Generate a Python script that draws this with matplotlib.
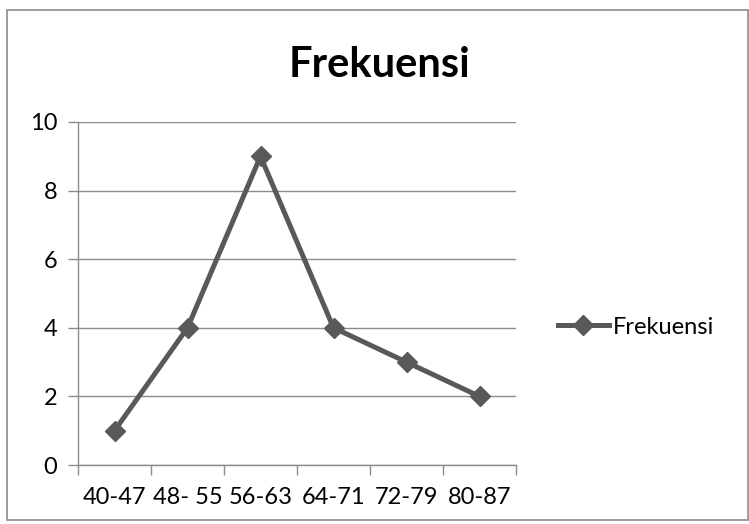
import matplotlib
matplotlib.use("Agg")
import matplotlib.pyplot as plt
from matplotlib.patches import Rectangle
from matplotlib.lines import Line2D

categories = ["40-47", "48- 55", "56-63", "64-71", "72-79", "80-87"]
values = [1, 4, 9, 4, 3, 2]
series_name = "Frekuensi"
title = "Frekuensi"
yticks = [0, 2, 4, 6, 8, 10]

plt.rcParams['font.family'] = ['Lato', 'DejaVu Sans']

W, H = 749, 524
fig = plt.figure(figsize=(W / 100, H / 100), dpi=100)
fig.patch.set_facecolor("white")

# outer frame
fig.add_artist(Rectangle((7 / W, 4 / H), (W - 8) / W, (H - 14) / H,
                         transform=fig.transFigure, fill=False,
                         edgecolor="#8c8c8c", linewidth=1.2))

ax = fig.add_axes([78 / W, (H - 465) / H, (516 - 78) / W, (465 - 122) / H])
x = list(range(len(categories)))
line_color = "#595959"
ax.plot(x, values, color=line_color, linewidth=3.6, marker="D",
        markersize=10, markerfacecolor=line_color, markeredgecolor=line_color,
        solid_joinstyle="miter", zorder=3, clip_on=False)

ax.set_xlim(-0.5, len(categories) - 0.5)
ax.set_ylim(0, 10)
ax.set_yticks(yticks)
ax.set_yticklabels([str(v) for v in yticks], fontsize=17)
ax.yaxis.grid(True, color="#8c8c8c", linewidth=1.0)
ax.set_axisbelow(True)

# x ticks at category boundaries, labels at centers
bounds = [i - 0.5 for i in range(len(categories) + 1)]
ax.set_xticks(bounds)
ax.set_xticklabels([""] * len(bounds))
ax.set_xticks(x, minor=True)
ax.set_xticklabels(categories, minor=True, fontsize=17)
ax.tick_params(axis="x", which="minor", length=0, pad=16)
ax.tick_params(axis="x", which="major", length=7, color="#8c8c8c", width=1.0)
ax.tick_params(axis="y", length=7, color="#8c8c8c", width=1.0, pad=8)

for s in ["top", "right"]:
    ax.spines[s].set_visible(False)
for s in ["left", "bottom"]:
    ax.spines[s].set_color("#8c8c8c")
    ax.spines[s].set_linewidth(1.0)

fig.text(380 / W, 1 - 65 / H, title, fontsize=30, fontweight="bold",
         ha="center", va="center")

handle = Line2D([], [], color=line_color, linewidth=3.6, marker="D",
                markersize=10, markerfacecolor=line_color)
fig.legend([handle], [series_name], loc="center left",
           bbox_to_anchor=(541 / W, 1 - 327 / H), frameon=False,
           fontsize=17, handlelength=2.2, handletextpad=0.15,
           borderpad=0.2)

fig.savefig("out.png", dpi=100, facecolor="white")
